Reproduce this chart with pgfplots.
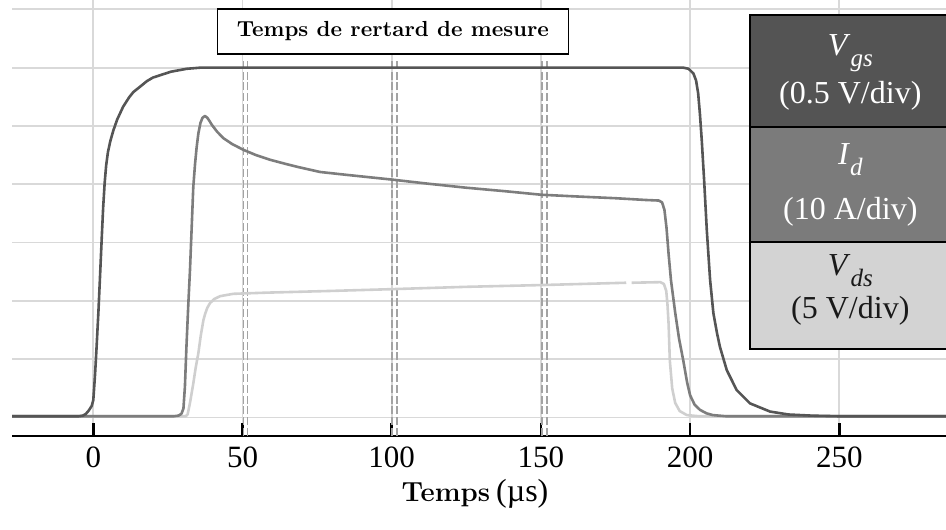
\documentclass[border=0pt]{standalone}
\usepackage{fontspec}
\usepackage{pgfplots}
\pgfplotsset{compat=1.18}
\newfontfamily\tfont{Liberation Serif}
\definecolor{cgs}{HTML}{555555}
\definecolor{cid}{HTML}{7D7D7D}
\definecolor{cds}{HTML}{CFCFCF}
\definecolor{lgs}{HTML}{545454}
\definecolor{lid}{HTML}{7B7B7B}
\definecolor{lds}{HTML}{D3D3D3}
\definecolor{grd}{HTML}{D9D9D9}
\definecolor{dsh}{HTML}{A3A3A3}
\newcommand{\sub}[1]{\raisebox{-0.33em}{\fontsize{12.5}{14}\selectfont\textit{#1}}}
\begin{document}
\begin{tikzpicture}
\begin{axis}[
  scale only axis, width=467pt, height=218pt,
  xmin=-27.25, xmax=285.76, ymin=-0.319, ymax=7.16,
  clip=false,
  axis line style={draw=none},
  xtick={0,50,...,250}, ytick={0,...,7}, yticklabels={},
  xtick pos=left, ytick pos=left,
  tick align=inside,
  major tick length=6.5pt,
  xtick style={black, line width=1.3pt},
  ytick style={draw=none},
  xmajorgrids, ymajorgrids,
  major grid style={grd, line width=0.9pt},
  xticklabel style={font=\tfont\fontsize{15.5}{18}\selectfont, yshift=-2pt},
  /pgf/number format/assume math mode=true,
  xlabel={\bfseries\fontsize{13.8}{16}\selectfont Temps\hspace{3pt}{\tfont\mdseries\fontsize{16}{18}\selectfont(µs)}},
  xlabel style={at={(axis description cs:0.5,0)}, anchor=base, yshift=-32.5pt, xshift=-2pt},
]
\coordinate (sw) at (rel axis cs:0,0);
\coordinate (ne) at (rel axis cs:1,1);
\draw[black, line width=1pt] (rel axis cs:0,0) -- (rel axis cs:1,0);

% dashed measurement lines
\addplot[dsh, line width=0.9pt, dash pattern=on 4pt off 1.4pt] coordinates {(50.3,-0.319) (50.3,6.15)};
\addplot[dsh, line width=0.9pt, dash pattern=on 4pt off 1.4pt] coordinates {(51.7,-0.319) (51.7,6.15)};
\addplot[dsh, line width=0.9pt, dash pattern=on 4pt off 1.4pt] coordinates {(100.2,-0.319) (100.2,6.15)};
\addplot[dsh, line width=0.9pt, dash pattern=on 4pt off 1.4pt] coordinates {(101.7,-0.319) (101.7,6.15)};
\addplot[dsh, line width=0.9pt, dash pattern=on 4pt off 1.4pt] coordinates {(150.5,-0.319) (150.5,6.15)};
\addplot[dsh, line width=0.9pt, dash pattern=on 4pt off 1.4pt] coordinates {(152.0,-0.319) (152.0,6.15)};

% Vds
\addplot[cds, line width=1.3pt, line join=round] coordinates {
(-27.25,0.02) (31,0.02) (31.6,0.05) (32.4,0.25) (33.5,0.58) (34.3,0.85) (35.2,1.10) (36.0,1.40) (36.9,1.67) (37.5,1.78) (38.2,1.88) (39.1,1.96) (40.5,2.03) (42.5,2.08) (46.9,2.12) (58,2.14) (80,2.17) (100,2.20) (125,2.24) (150,2.27) (178.6,2.31)};
\addplot[cds, line width=1.3pt, line join=round] coordinates {
(180.4,2.31) (190,2.32) (191.2,2.29) (192.0,2.17) (192.4,1.95) (192.8,1.60) (193.2,0.98) (194,0.50) (195,0.25) (196.5,0.11) (198.9,0.04) (203,0.02) (285.76,0.02)};

% Id
\addplot[cid, line width=1.3pt, line join=round] coordinates {
(-27.25,0.02) (27,0.02) (28.5,0.03) (29.5,0.06) (30.2,0.15) (30.7,0.53) (31.2,1.2) (31.8,1.9) (32.4,2.53) (33.0,3.3) (33.5,3.95) (34.1,4.35) (34.6,4.62) (35.2,4.87) (35.9,5.05) (36.6,5.14) (37.4,5.17) (38.2,5.14) (39.0,5.08) (39.7,5.02) (41.5,4.90) (43.6,4.79) (46.5,4.69) (50.3,4.59) (54.5,4.50) (59.2,4.42) (63.6,4.36) (68.2,4.30) (76,4.21) (85,4.16) (100,4.08) (112,4.01) (125,3.94) (138,3.88) (150,3.82) (162,3.79) (175,3.76) (185,3.73) (189.5,3.72) (190.6,3.69) (191.4,3.56) (192.1,3.25) (192.8,2.80) (193.6,2.35) (195,1.80) (196.3,1.35) (197.7,0.98) (199,0.60) (200,0.38) (201.5,0.22) (203.3,0.13) (205.5,0.07) (207.6,0.04) (212,0.02) (285.76,0.02)};

% Vgs
\addplot[cgs, line width=1.3pt, line join=round] coordinates {
(-27.25,0.02) (-5,0.02) (-3.5,0.03) (-2.5,0.06) (-1.5,0.12) (-0.5,0.20) (0,0.30) (0.6,0.75) (1.1,1.21) (1.7,1.80) (2.2,2.36) (2.8,3.05) (3.3,3.60) (3.8,4.02) (4.3,4.32) (4.9,4.55) (5.7,4.74) (6.7,4.92) (8,5.11) (10,5.33) (12,5.49) (13.4,5.58) (15.6,5.67) (18,5.77) (20,5.83) (22.4,5.87) (26,5.93) (31.3,5.98) (36,6.0) (197.7,6.0) (199.5,5.98) (201.1,5.90) (202,5.78) (202.7,5.56) (203.3,5.20) (203.9,4.76) (204.7,4.07) (205.6,3.21) (206.7,2.36) (207.8,1.79) (209,1.45) (210.0,1.21) (212.3,0.81) (215.6,0.47) (220.1,0.24) (226.8,0.10) (233,0.05) (241,0.03) (250,0.02) (285.76,0.02)};

% label box
\node[draw=black, line width=0.9pt, fill=white, minimum width=175.5pt, minimum height=22.85pt, inner sep=0pt, font=\bfseries\fontsize{10.9}{12}\selectfont] at (axis cs:100.4,6.62) {Temps de rertard de mesure};

% legend blocks
\draw[fill=lgs, line width=1pt] (axis cs:220,6.90) rectangle (axis cs:292,4.99);
\draw[fill=lid, line width=1pt] (axis cs:220,4.99) rectangle (axis cs:292,3.01);
\draw[fill=lds, line width=1pt] (axis cs:220,3.01) rectangle (axis cs:292,1.17);
\begin{scope}[every node/.style={anchor=base, inner sep=0pt, font=\tfont\fontsize{16}{19}\selectfont}]
\node[text=white] at (axis cs:253.7,6.20) {\textit{V}\sub{gs}};
\node[text=white] at (axis cs:253.7,5.39) {(0.5 V/div)};
\node[text=white] at (axis cs:253.7,4.33) {\textit{I}\sub{d}};
\node[text=white] at (axis cs:253.7,3.40) {(10 A/div)};
\node[text=black!90] at (axis cs:253.7,2.43) {\textit{V}\sub{ds}};
\node[text=black!90] at (axis cs:253.7,1.70) {(5 V/div)};
\end{scope}
\end{axis}
\pgfresetboundingbox
\path[use as bounding box] ([shift={(-6pt,-46.5pt)}]sw) rectangle (ne);
\end{tikzpicture}
\end{document}
